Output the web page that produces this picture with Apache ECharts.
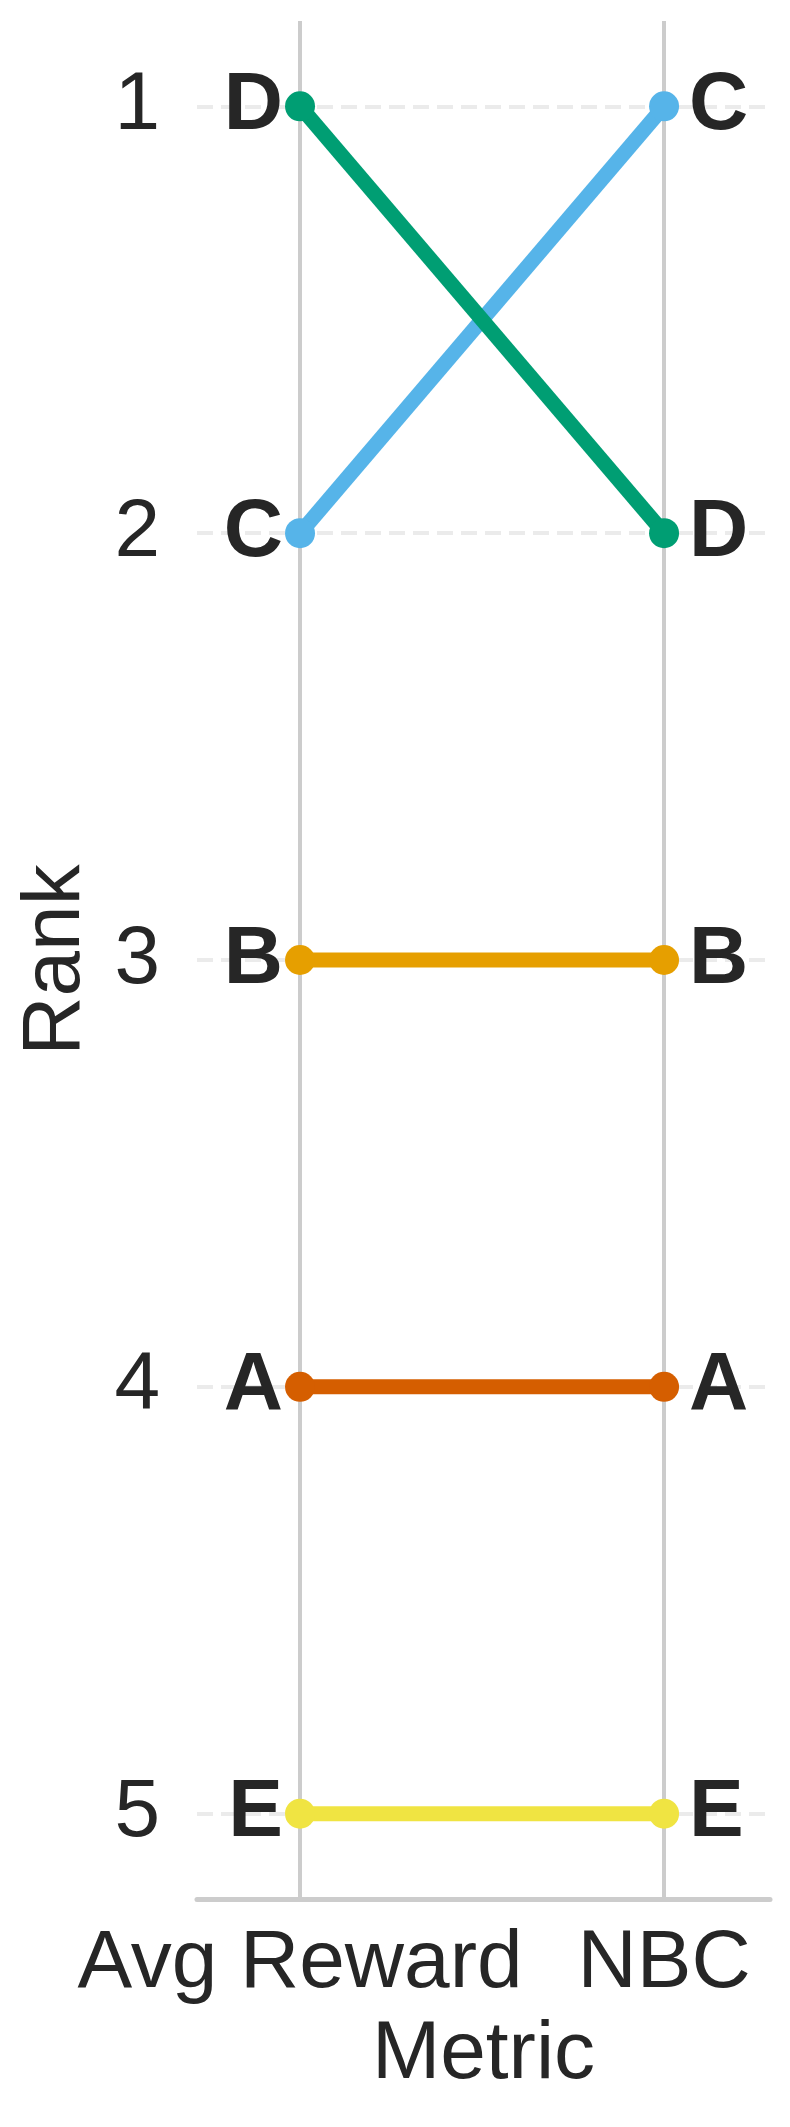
<!DOCTYPE html>
<html>
<head>
<meta charset="utf-8">
<script src="https://cdn.jsdelivr.net/npm/echarts@6/dist/echarts.min.js"></script>
<style>
  html, body { margin: 0; padding: 0; background: #fff; }
</style>
</head>
<body>
<div id="rank_chart" style="width:790px;height:2127px;"></div>
<script>
// data
const metrics = ['Avg Reward', 'NBC'];
const models = ['A', 'B', 'C', 'D', 'E'];
const avgRewardRank = [4, 3, 2, 1, 5];
const nbcRank = [4, 3, 1, 2, 5];
const modelColors = ['#D55E00', '#E69F00', '#56B4E9', '#009E73', '#F0E442'];
const rankTicks = [1, 2, 3, 4, 5];
// draw order (D over C at the crossing)
const drawOrder = [4, 0, 1, 2, 3];

const FONT = "'Liberation Sans', Arial, sans-serif";
const TEXT = '#262626';

const series = [{
    // guide lines: vertical per metric, dashed per rank
    type: 'line',
    data: [],
    z: 0,
    markLine: {
        z: 0,
        silent: true,
        symbol: 'none',
        animation: false,
        label: { show: false },
        data: metrics.map((m, i) => ({ xAxis: i, lineStyle: { color: '#cccccc', width: 4, type: 'solid' } }))
            .concat(rankTicks.map(r => ({ yAxis: r, lineStyle: { color: '#ebebeb', width: 4, type: [16, 8] } })))
    }
}];

drawOrder.forEach((i, k) => {
    series.push({
        type: 'line',
        name: models[i],
        z: 2 + k,
        symbol: 'circle',
        symbolSize: 30,
        lineStyle: { color: modelColors[i], width: 15 },
        itemStyle: { color: modelColors[i] },
        label: {
            show: true,
            formatter: models[i],
            fontFamily: FONT,
            fontSize: 82,
            fontWeight: 'bold',
            color: TEXT
        },
        data: [
            { value: [0, avgRewardRank[i]], label: { position: 'left', distance: 2 } },
            { value: [1, nbcRank[i]], label: { position: 'right', distance: 10 } }
        ]
    });
});

const option = {
    animation: false,
    grid: { left: 197, right: 20, top: 21, bottom: 228 },
    xAxis: {
        type: 'value',
        min: -0.283,
        max: 1.291,
        name: 'Metric',
        nameLocation: 'middle',
        nameGap: 115,
        nameTextStyle: { fontFamily: FONT, fontSize: 82, color: TEXT },
        axisLine: { show: true, onZero: false, lineStyle: { color: '#cccccc', width: 5 } },
        axisTick: { show: false },
        splitLine: { show: false },
        axisLabel: {
            customValues: [0, 1],
            formatter: v => metrics[Math.round(v)],
            fontFamily: FONT,
            fontSize: 82,
            color: TEXT,
            margin: 24
        }
    },
    yAxis: {
        type: 'value',
        inverse: true,
        min: 0.8,
        max: 5.2,
        name: 'Rank',
        nameLocation: 'middle',
        nameGap: 100,
        nameTextStyle: { fontFamily: FONT, fontSize: 82, color: TEXT },
        axisLine: { show: false },
        axisTick: { show: false },
        splitLine: { show: false },
        axisLabel: {
            customValues: rankTicks,
            fontFamily: FONT,
            fontSize: 82,
            color: TEXT,
            margin: 37
        }
    },
    series: series
};

const rankChart = echarts.init(document.getElementById('rank_chart'));
rankChart.setOption(option);
</script>
</body>
</html>
